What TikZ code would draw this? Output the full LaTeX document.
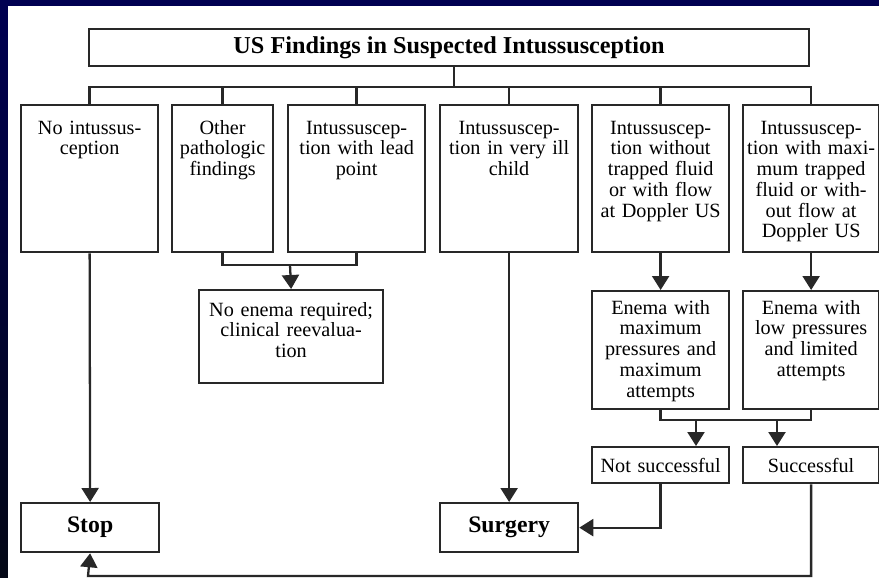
\documentclass[tikz,border=0pt]{standalone}
\usepackage{fontspec}
\setmainfont{Liberation Serif}
\usepackage{xcolor}
\usetikzlibrary{arrows.meta, positioning}
\definecolor{slidenavy}{RGB}{0,0,82}
\definecolor{slidedark}{RGB}{4,8,22}
\definecolor{inkgray}{RGB}{40,40,40}

\begin{document}
\begin{tikzpicture}[x=0.02cm, y=-0.02cm, >={Triangle[width=3.4mm,length=2.8mm]},
  flowbox/.style={draw=inkgray, line width=1.3pt, fill=white, anchor=north west,
    align=center, inner xsep=0pt, inner ysep=0pt,
    font=\fontsize{11.5}{11.8}\selectfont},
  findbox/.style={flowbox, text width=2.74cm, text height=0.58cm, text depth=2.36cm},
  enemabox/.style={flowbox, text width=2.74cm, text height=0.46cm, text depth=1.90cm},
  resultbox/.style={flowbox, text width=2.74cm, minimum height=0.72cm},
  endbox/.style={flowbox, font=\bfseries\fontsize{13.5}{15}\selectfont,
    minimum width=2.76cm, minimum height=0.98cm},
  conn/.style={draw=inkgray, line width=1.3pt}]
  % slide background
  \fill[slidenavy](0,0) rectangle (879,578);
  \shade[top color=slidenavy, bottom color=slidedark](0,0) rectangle (8,578);
  \fill[white](8,6) rectangle (879,578);
  \useasboundingbox (0,0) rectangle (879,578);

  \node[flowbox, font=\bfseries\fontsize{13.8}{16}\selectfont,
    minimum width=14.4cm, minimum height=0.74cm] (title) at (88,28)
    {US Findings in Suspected Intussusception};

  % first row
  \node[findbox] (nointus) at (20,104) {No intussus-\\ception};
  \node[findbox, text width=2.02cm] (other) at (171,104)
    {Other\\pathologic\\findings};
  \node[findbox] (lead) at (287,104) {Intussuscep-\\tion with lead\\point};
  \node[findbox, text width=2.76cm] (illchild) at (439,104)
    {Intussuscep-\\tion in very ill\\child};
  \node[findbox] (noflow) at (591,104)
    {Intussuscep-\\tion without\\trapped fluid\\or with flow\\at Doppler US};
  \node[findbox, text width=2.72cm] (maxfluid) at (742,104)
    {Intussuscep-\\tion with maxi-\\mum trapped\\fluid or with-\\out flow at\\Doppler US};

  % second row
  \node[flowbox, text width=3.68cm, text height=0.52cm, text depth=1.34cm]
    (noenema) at (198,289) {No enema required;\\clinical reevalua-\\tion};
  \node[enemabox] (maxenema) at (591,290)
    {Enema with\\maximum\\pressures and\\maximum\\attempts};
  \node[enemabox, text width=2.72cm] (lowenema) at (742,290)
    {Enema with\\low pressures\\and limited\\attempts};
  \node[resultbox] (notsucc) at (591,446) {Not successful};
  \node[resultbox, text width=2.72cm] (succ) at (742,446) {Successful};

  % outcomes
  \node[endbox] (stop) at (20,502) {Stop};
  \node[endbox] (surgery) at (439,502) {Surgery};

  % connectors
  \coordinate (bus) at (454,87);
  \draw[conn](title.south -| bus) -- (bus);
  \draw[conn](nointus.north) |- (bus) -| (maxfluid.north);
  \foreach \b in {other, lead, illchild, noflow}
    \draw[conn](\b.north) -- (\b.north |- bus);

  \coordinate (join) at (290,265);
  \draw[conn](other.south) |- (join) -| (lead.south);
  \draw[conn,->](join) -- (noenema.north);

  \draw[conn,->](nointus.south) -- (stop.north);
  \draw[conn,->](illchild.south) -- (surgery.north);
  \draw[conn,->](noflow.south) -- (maxenema.north);
  \draw[conn,->](maxfluid.south) -- (lowenema.north);

  \coordinate (nsarrow) at (696,420);
  \coordinate (sarrow) at (777,420);
  \draw[conn](maxenema.south) |- (nsarrow) -- (sarrow) -| (lowenema.south);
  \draw[conn,->](nsarrow) -- (nsarrow |- notsucc.north);
  \draw[conn,->](sarrow) -- (sarrow |- succ.north);

  \draw[conn,->](notsucc.south) |- (surgery.east);
  \coordinate (floor) at (88,576);
  \draw[conn,->](succ.south) |- (floor) -- (stop.south);
\end{tikzpicture}
\end{document}
